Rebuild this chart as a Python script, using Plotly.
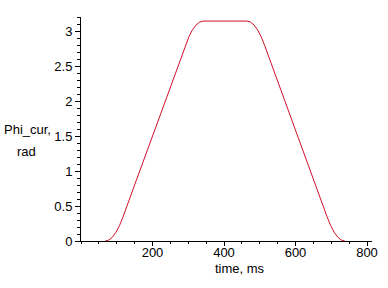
import plotly.graph_objects as go

# time (ms) and Phi_cur (rad)
time_ms = [68, 78, 88, 98, 108, 118, 150, 200, 250, 292, 302, 312, 322, 332, 342,
           400, 464, 474, 484, 494, 504, 514, 550, 600, 650, 688, 698, 708, 718, 728, 738]
phi_cur = [0, 0.014, 0.056, 0.126, 0.224, 0.35, 0.80, 1.50, 2.20, 2.79, 2.92, 3.02,
           3.086, 3.128, 3.1416, 3.1416, 3.1416, 3.128, 3.086, 3.016, 2.918, 2.79, 2.28, 1.58,
           0.88, 0.35, 0.224, 0.126, 0.056, 0.014, 0]

x_ticks = [200, 400, 600, 800]
y_ticks = [0, 0.5, 1, 1.5, 2, 2.5, 3]
y_tick_text = ["0", "0.5", "1", "1.5", "2", "2.5", "3"]

font = dict(family="Liberation Sans, Arial, sans-serif", size=13, color="black")

fig = go.Figure()
fig.add_trace(go.Scatter(x=time_ms, y=phi_cur, mode="lines",
                         line=dict(color="#d0102a", width=1), showlegend=False,
                         hoverinfo="skip", cliponaxis=True))

fig.update_layout(
    width=388, height=288,
    margin=dict(l=81, r=10, t=17, b=47),
    paper_bgcolor="white", plot_bgcolor="white",
    font=font,
    xaxis=dict(range=[0, 814], showgrid=False, zeroline=False, showline=True,
               linecolor="black", linewidth=1, tickmode="array", tickvals=x_ticks,
               ticktext=[str(v) for v in x_ticks], ticks="outside", ticklen=4,
               tickcolor="black", tickfont=font, ticklabelstandoff=-5,
               minor=dict(dtick=50, ticks="outside", ticklen=2, tickcolor="black"),
               fixedrange=True, layer="above traces"),
    yaxis=dict(range=[0, 3.2], showgrid=False, zeroline=False, showline=True,
               linecolor="black", linewidth=1, tickmode="array", tickvals=y_ticks,
               ticktext=y_tick_text, ticks="outside", ticklen=5, tickcolor="black",
               tickfont=font,
               minor=dict(dtick=0.1, ticks="outside", ticklen=3, tickcolor="black"),
               fixedrange=True, layer="above traces"),
)

fig.add_annotation(text="Phi_cur,", xref="paper", yref="paper", x=-0.185, y=0.5,
                   xanchor="center", yanchor="middle", showarrow=False, font=font,
                   yshift=0)
fig.add_annotation(text="rad", xref="paper", yref="paper", x=-0.188, y=0.5,
                   xanchor="center", yanchor="middle", showarrow=False, font=font,
                   yshift=-22)
fig.add_annotation(text="time, ms", xref="paper", yref="paper", x=0.545, y=0,
                   xanchor="center", yanchor="middle", showarrow=False, font=font,
                   yshift=-27)

fig.write_html("out.html")
